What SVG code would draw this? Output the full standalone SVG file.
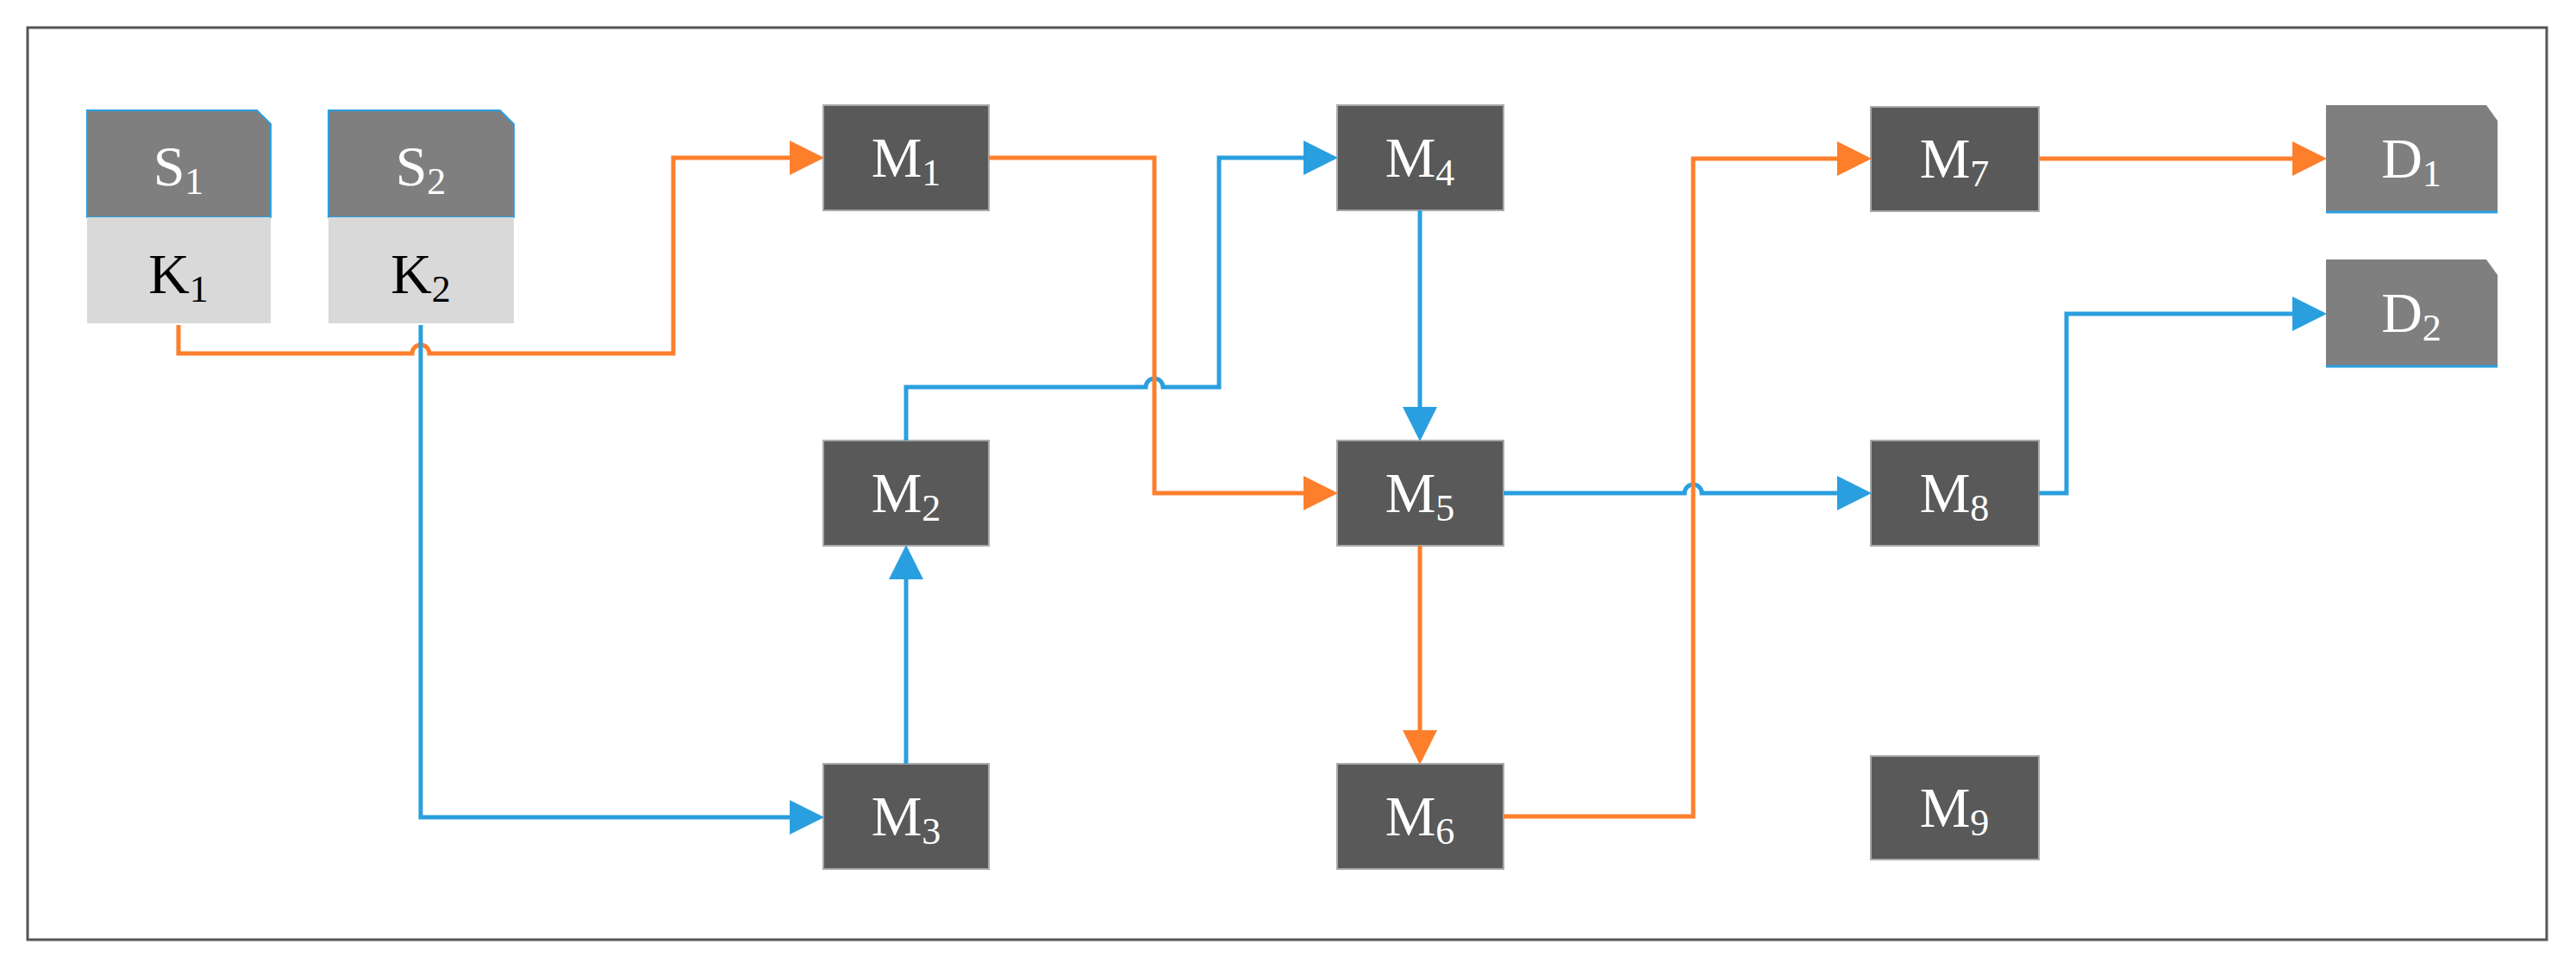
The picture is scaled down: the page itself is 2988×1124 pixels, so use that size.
<svg xmlns="http://www.w3.org/2000/svg" width="2988" height="1124" viewBox="0 0 2988 1124">
<style>
.n{fill:#595959;stroke:#a8a8a8;stroke-width:2}
.h{fill:#7f7f7f}
.k{fill:#d9d9d9}
.t{font-family:"Liberation Serif",serif;font-size:66px;fill:#fff;text-anchor:middle}
.tk{font-family:"Liberation Serif",serif;font-size:66px;fill:#000;text-anchor:middle}
.s{font-size:44px}
.o{fill:none;stroke:#fd7f2c;stroke-width:5;marker-end:url(#ao)}
.b{fill:none;stroke:#2a9fdf;stroke-width:5;marker-end:url(#ab)}
</style>
<defs>
<marker id="ao" markerWidth="8" markerHeight="8" refX="7" refY="4" orient="auto" markerUnits="strokeWidth"><path d="M0,0 L8,4 L0,8 z" fill="#fd7f2c"/></marker>
<marker id="ab" markerWidth="8" markerHeight="8" refX="7" refY="4" orient="auto" markerUnits="strokeWidth"><path d="M0,0 L8,4 L0,8 z" fill="#2a9fdf"/></marker>
</defs>
<rect x="32" y="32" width="2922" height="1058" fill="#fff" stroke="#555" stroke-width="3"/>
<g id="S1"><path class="h" d="M101,128 H298 L314,144 V252 H101 Z" stroke="#2a9fdf" stroke-width="2"/><rect class="k" x="101" y="252" width="213" height="123"/><text class="t" x="207" y="215">S<tspan class="s" dy="10">1</tspan></text><text class="tk" x="207" y="340">K<tspan class="s" dy="10">1</tspan></text></g>
<g id="S2"><path class="h" d="M381,128 H580 L596,144 V252 H381 Z" stroke="#2a9fdf" stroke-width="2"/><rect class="k" x="381" y="252" width="215" height="123"/><text class="t" x="488" y="215">S<tspan class="s" dy="10">2</tspan></text><text class="tk" x="488" y="340">K<tspan class="s" dy="10">2</tspan></text></g>
<g id="M1"><rect class="n" x="955" y="122" width="192" height="122"/><text class="t" x="1051" y="205">M<tspan class="s" dy="10">1</tspan></text></g>
<g id="M2"><rect class="n" x="955" y="511" width="192" height="122"/><text class="t" x="1051" y="594">M<tspan class="s" dy="10">2</tspan></text></g>
<g id="M3"><rect class="n" x="955" y="886" width="192" height="122"/><text class="t" x="1051" y="969">M<tspan class="s" dy="10">3</tspan></text></g>
<g id="M4"><rect class="n" x="1551" y="122" width="193" height="122"/><text class="t" x="1647" y="205">M<tspan class="s" dy="10">4</tspan></text></g>
<g id="M5"><rect class="n" x="1551" y="511" width="193" height="122"/><text class="t" x="1647" y="594">M<tspan class="s" dy="10">5</tspan></text></g>
<g id="M6"><rect class="n" x="1551" y="886" width="193" height="122"/><text class="t" x="1647" y="969">M<tspan class="s" dy="10">6</tspan></text></g>
<g id="M7"><rect class="n" x="2170" y="124" width="195" height="121"/><text class="t" x="2267" y="206">M<tspan class="s" dy="10">7</tspan></text></g>
<g id="M8"><rect class="n" x="2170" y="511" width="195" height="122"/><text class="t" x="2267" y="594">M<tspan class="s" dy="10">8</tspan></text></g>
<g id="M9"><rect class="n" x="2170" y="877" width="195" height="120"/><text class="t" x="2267" y="959">M<tspan class="s" dy="10">9</tspan></text></g>
<g id="D1"><path class="h" d="M2698,122 H2884 L2897,140 V246 H2698 Z"/><line x1="2698" y1="246" x2="2897" y2="246" stroke="#2a9fdf" stroke-width="3"/><text class="t" x="2797" y="206">D<tspan class="s" dy="10">1</tspan></text></g>
<g id="D2"><path class="h" d="M2698,301 H2884 L2897,319 V425 H2698 Z"/><line x1="2698" y1="425" x2="2897" y2="425" stroke="#2a9fdf" stroke-width="3"/><text class="t" x="2797" y="385">D<tspan class="s" dy="10">2</tspan></text></g>
<g id="connectors">
<path class="o" d="M207,377 V410 H478 A10,10 0 0 1 498,410 H781 V183 H951"/>
<path class="b" d="M488,377 V948 H951"/>
<path class="b" d="M1051,886 V637"/>
<path class="b" d="M1051,511 V449 H1329 A10,10 0 0 1 1349,449 H1414 V183 H1547"/>
<path class="o" d="M1147,183 H1339 V572 H1547"/>
<path class="b" d="M1647,244 V507"/>
<path class="o" d="M1647,633 V882"/>
<path class="b" d="M1744,572 H1954 A10,10 0 0 1 1974,572 H2166"/>
<path class="o" d="M1744,947 H1964 V184 H2166"/>
<path class="o" d="M2365,184 H2694"/>
<path class="b" d="M2365,572 H2397 V364 H2694"/>
</g>
</svg>
